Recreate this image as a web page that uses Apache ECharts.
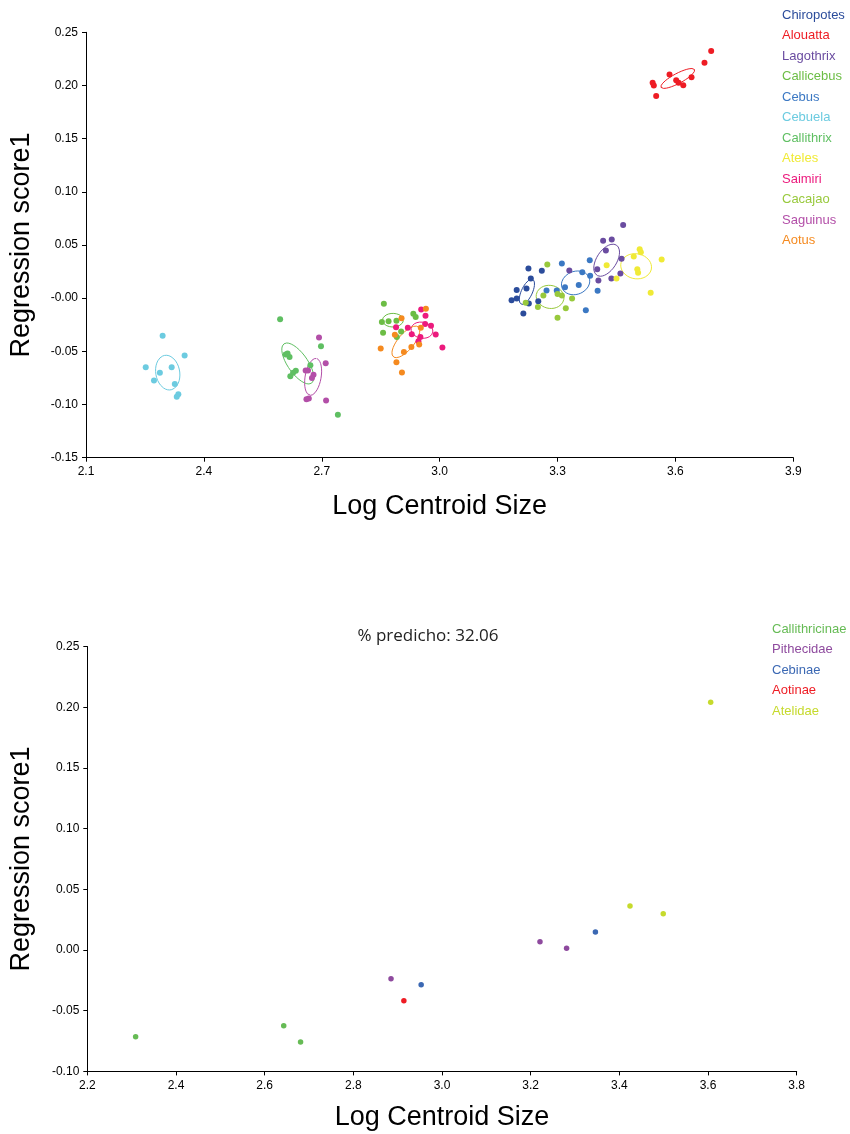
<!DOCTYPE html>
<html>
<head>
<meta charset="utf-8">
<script src="https://cdn.jsdelivr.net/npm/echarts@6/dist/echarts.min.js"></script>
<style>
  html, body { margin: 0; padding: 0; background: #fff; }
  #main { width: 850px; height: 1134px; }
</style>
</head>
<body>
<div id="main"></div>
<script>
// ---- top chart: specimens per genus ----
var chiropotes = [[3.226,0.0279],[3.260,0.0257],[3.232,0.0185],[3.196,0.0078],[3.221,0.0091],[3.196,-0.0003],[3.183,-0.0019],[3.227,-0.0050],[3.251,-0.0028],[3.213,-0.0144]];
var alouatta = [[3.691,0.2323],[3.674,0.2213],[3.585,0.2103],[3.641,0.2078],[3.602,0.2050],[3.608,0.2025],[3.620,0.2003],[3.542,0.2025],[3.545,0.2000],[3.551,0.1902]];
var lagothrix = [[3.467,0.0689],[3.416,0.0539],[3.438,0.0552],[3.423,0.0448],[3.463,0.0370],[3.330,0.0260],[3.401,0.0273],[3.460,0.0232],[3.404,0.0166],[3.437,0.0185]];
var callicebus = [[2.858,-0.0053],[2.853,-0.0223],[2.870,-0.0216],[2.890,-0.0213],[2.856,-0.0326],[2.933,-0.0147],[2.939,-0.0176],[2.902,-0.0313],[2.891,-0.0364]];
var cebus = [[3.311,0.0326],[3.272,0.0072],[3.298,0.0072],[3.319,0.0103],[3.354,0.0125],[3.363,0.0244],[3.383,0.0210],[3.382,0.0357],[3.402,0.0069],[3.372,-0.0113]];
var cebuela = [[2.295,-0.0354],[2.351,-0.0539],[2.252,-0.0649],[2.288,-0.0702],[2.318,-0.0649],[2.273,-0.0774],[2.326,-0.0806],[2.335,-0.0903],[2.331,-0.0928]];
var callithrix = [[2.594,-0.0197],[2.608,-0.0530],[2.618,-0.0552],[2.613,-0.0520],[2.698,-0.0451],[2.671,-0.0630],[2.634,-0.0683],[2.627,-0.0702],[2.620,-0.0733],[2.741,-0.1097]];
var ateles = [[3.509,0.0461],[3.512,0.0433],[3.494,0.0392],[3.565,0.0364],[3.425,0.0310],[3.503,0.0273],[3.505,0.0238],[3.450,0.0185],[3.537,0.0050]];
var saimiri = [[2.953,-0.0106],[2.964,-0.0166],[2.889,-0.0273],[2.919,-0.0279],[2.929,-0.0339],[2.951,-0.0364],[2.963,-0.0242],[2.978,-0.0260],[2.990,-0.0342],[2.946,-0.0404],[3.007,-0.0464]];
var cacajao = [[3.274,0.0317],[3.264,0.0025],[3.300,0.0040],[3.311,0.0025],[3.337,-0.0003],[3.219,-0.0044],[3.250,-0.0082],[3.321,-0.0094],[3.300,-0.0185]];
var saguinus = [[2.693,-0.0370],[2.710,-0.0611],[2.659,-0.0680],[2.665,-0.0680],[2.679,-0.0721],[2.675,-0.0750],[2.661,-0.0950],[2.667,-0.0943],[2.711,-0.0962]];
var aotus = [[2.965,-0.0100],[2.903,-0.0188],[2.886,-0.0345],[2.952,-0.0279],[2.850,-0.0473],[2.909,-0.0505],[2.928,-0.0460],[2.948,-0.0435],[2.890,-0.0602],[2.904,-0.0699]];

// ellipse per genus: centre x, centre y, semi axis a (dx, dy), semi axis b (dx, dy)
var ellipses = [
  [3.222, 0.0060, 0.0147, 0.01168, -0.01265, 0.00219],
  [3.606, 0.2066, 0.0426, 0.00839, -0.00596, 0.00415],
  [3.425, 0.0357, 0.0249, 0.0142, -0.0213, 0.00512],
  [2.881, -0.0207, 0.0267, 0, 0, 0.00639],
  [3.346, 0.0144, 0.0346, 0.00466, -0.00999, 0.01016],
  [2.308, -0.0700, -0.00772, 0.0162, -0.0300, -0.00196],
  [2.639, -0.0614, -0.0350, 0.0185, -0.0208, -0.0054],
  [3.500, 0.0300, 0.0388, -0.00253, 0.00551, 0.01158],
  [2.955, -0.0301, 0.0275, -0.0018, 0.00353, 0.00741],
  [3.281, 0.0012, 0.0350, -0.00229, 0.00507, 0.01065],
  [2.678, -0.0740, 0.00825, 0.01732, -0.0200, 0.00131],
  [2.914, -0.0411, 0.0318, 0.01405, -0.01556, 0.00483]
];

var genera = ['Chiropotes','Alouatta','Lagothrix','Callicebus','Cebus','Cebuela','Callithrix','Ateles','Saimiri','Cacajao','Saguinus','Aotus'];
var generaData = [chiropotes, alouatta, lagothrix, callicebus, cebus, cebuela, callithrix, ateles, saimiri, cacajao, saguinus, aotus];
var generaColors = ['#2b4c9b','#ee1c24','#6a4ca0','#6cbd45','#3b78c3','#6ccbe0','#5fbf62','#f0ea36','#ec1a7d','#98c93c','#b34fa8','#f58a1f'];

// ---- bottom chart: family means ----
var callithricinae = [[2.309,-0.0714],[2.643,-0.0624],[2.681,-0.0758]];
var pithecidae = [[2.885,-0.0236],[3.221,0.0068],[3.281,0.0014]];
var cebinae = [[2.953,-0.0286],[3.346,0.0148]];
var aotinae = [[2.914,-0.0418]];
var atelidae = [[3.424,0.0362],[3.499,0.0299],[3.606,0.2040]];

var families = ['Callithricinae','Pithecidae','Cebinae','Aotinae','Atelidae'];
var familyData = [callithricinae, pithecidae, cebinae, aotinae, atelidae];
var familyColors = ['#66bb55','#8e4a9e','#3b68b3','#ee1c24','#c6da2c'];

var topYLabels = ['-0.15','-0.10','-0.05','-0.00','0.05','0.10','0.15','0.20','0.25'];
var topXLabels = ['2.1','2.4','2.7','3.0','3.3','3.6','3.9'];
var botYLabels = ['-0.10','-0.05','0.00','0.05','0.10','0.15','0.20','0.25'];
var botXLabels = ['2.2','2.4','2.6','2.8','3.0','3.2','3.4','3.6','3.8'];

var FONT = 'Liberation Sans, Arial, sans-serif';

function ellipseLine(e) {
  var pts = [];
  for (var k = 0; k <= 72; k++) {
    var t = k / 72 * Math.PI * 2;
    pts.push([e[0] + e[2] * Math.cos(t) + e[4] * Math.sin(t),
              e[1] + e[3] * Math.cos(t) + e[5] * Math.sin(t)]);
  }
  return pts;
}

function axisCommon(labels) {
  return {
    axisLine: { show: true, onZero: false, lineStyle: { color: '#000', width: 1 } },
    axisTick: { show: true, length: 4, lineStyle: { color: '#000' } },
    splitLine: { show: false },
    axisLabel: {
      color: '#000', fontSize: 12, fontFamily: FONT,
      formatter: function (v, i) { return labels[i]; }
    },
    nameTextStyle: { color: '#000', fontSize: 27, fontFamily: FONT },
    nameLocation: 'middle'
  };
}

var series = [];
for (var i = 0; i < genera.length; i++) {
  series.push({
    name: genera[i], type: 'line', xAxisIndex: 0, yAxisIndex: 0,
    data: ellipseLine(ellipses[i]), symbol: 'none', smooth: false,
    lineStyle: { color: generaColors[i], width: 1 }, itemStyle: { color: generaColors[i] },
    silent: true, z: 2
  });
  series.push({
    name: genera[i], type: 'scatter', xAxisIndex: 0, yAxisIndex: 0,
    data: generaData[i], symbolSize: 6,
    itemStyle: { color: generaColors[i], opacity: 1 }, z: 3
  });
}
for (var j = 0; j < families.length; j++) {
  series.push({
    name: families[j], type: 'scatter', xAxisIndex: 1, yAxisIndex: 1,
    data: familyData[j], symbolSize: 5.5,
    itemStyle: { color: familyColors[j], opacity: 1 }
  });
}

var myChart = echarts.init(document.getElementById('main'), null, { renderer: 'canvas' });

var option = {
  backgroundColor: '#fff',
  animation: false,
  title: {
    text: '% predicho: 32.06',
    left: 423, top: 623, textAlign: 'center',
    textStyle: { fontSize: 17, fontWeight: 'normal', color: '#222', fontFamily: 'Open Sans, sans-serif' }
  },
  legend: [
    {
      orient: 'vertical', left: 772, top: 3, itemWidth: 0, itemHeight: 14, itemGap: 7,
      icon: 'none', selectedMode: false,
      data: genera.map(function (n, k) { return { name: n, textStyle: { color: generaColors[k] } }; }),
      textStyle: { fontSize: 13, fontFamily: FONT }
    },
    {
      orient: 'vertical', left: 762, top: 617, itemWidth: 0, itemHeight: 14, itemGap: 7,
      icon: 'none', selectedMode: false,
      data: families.map(function (n, k) { return { name: n, textStyle: { color: familyColors[k] } }; }),
      textStyle: { fontSize: 13, fontFamily: FONT }
    }
  ],
  grid: [
    { left: 84.3, right: 56.7, top: 32.3, bottom: 676.3 },
    { left: 87.3, right: 53.3, top: 646.5, bottom: 62.6 }
  ],
  xAxis: [
    Object.assign(axisCommon(topXLabels), {
      type: 'value', gridIndex: 0, min: 2.1, max: 3.9, interval: 0.3,
      name: 'Log Centroid Size', nameGap: 35
    }),
    Object.assign(axisCommon(botXLabels), {
      type: 'value', gridIndex: 1, min: 2.2, max: 3.8, interval: 0.2,
      name: 'Log Centroid Size', nameGap: 33
    })
  ],
  yAxis: [
    Object.assign(axisCommon(topYLabels), {
      type: 'value', gridIndex: 0, min: -0.15, max: 0.25, interval: 0.05,
      name: 'Regression score1', nameGap: 51
    }),
    Object.assign(axisCommon(botYLabels), {
      type: 'value', gridIndex: 1, min: -0.10, max: 0.25, interval: 0.05,
      name: 'Regression score1', nameGap: 52
    })
  ],
  series: series
};

myChart.setOption(option, true);
</script>
</body>
</html>
